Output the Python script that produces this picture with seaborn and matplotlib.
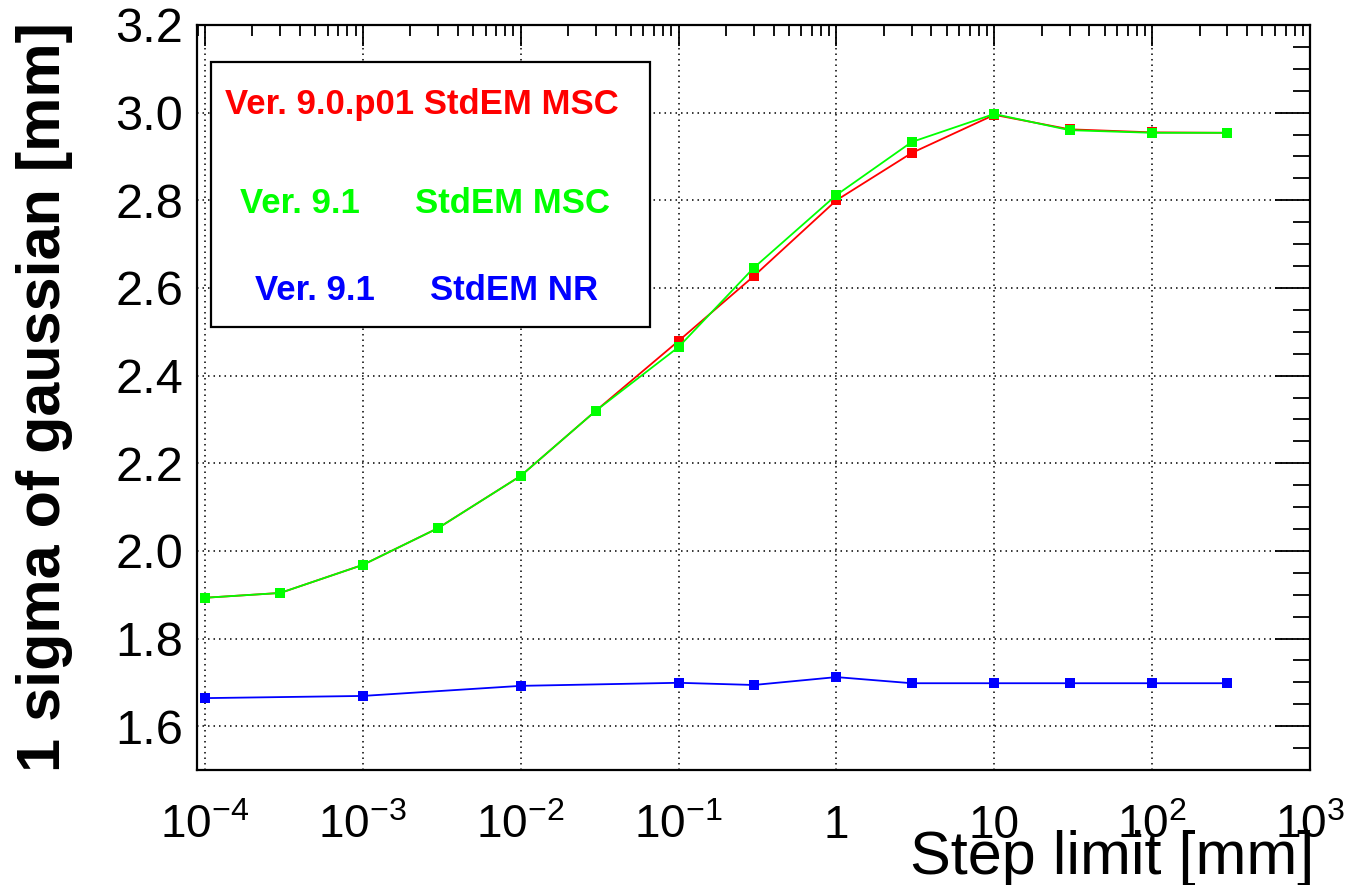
import numpy as np
import pandas as pd
import matplotlib
matplotlib.use("Agg")
import matplotlib.pyplot as plt
import seaborn as sns
from matplotlib.ticker import LogLocator, MultipleLocator, NullFormatter
from matplotlib.patches import Rectangle

# ---------------- data ----------------
steps_msc = [1e-4, 3e-4, 1e-3, 3e-3, 1e-2, 3e-2, 0.1, 0.3, 1, 3, 10, 30, 100, 300]
sigma_v90p01_msc = [1.893, 1.904, 1.968, 2.052, 2.171, 2.320, 2.479, 2.627,
                    2.800, 2.908, 2.995, 2.962, 2.955, 2.954]
sigma_v91_msc = [1.893, 1.904, 1.968, 2.052, 2.171, 2.320, 2.465, 2.646,
                 2.812, 2.933, 2.997, 2.960, 2.954, 2.954]
steps_nr = [1e-4, 1e-3, 1e-2, 0.1, 0.3, 1, 3, 10, 30, 100, 300]
sigma_v91_nr = [1.664, 1.669, 1.692, 1.699, 1.694, 1.712, 1.698, 1.698,
                1.698, 1.698, 1.698]

series_names = ["Ver. 9.0.p01 StdEM MSC", "Ver. 9.1 StdEM MSC", "Ver. 9.1 StdEM NR"]
series_colors = ["#ff0000", "#00ff00", "#0000ff"]

x_tick_values = [1e-4, 1e-3, 1e-2, 1e-1, 1, 10, 1e2, 1e3]
x_tick_labels = ["$10^{-4}$", "$10^{-3}$", "$10^{-2}$", "$10^{-1}$", "1", "10",
                 "$10^{2}$", "$10^{3}$"]
y_tick_values = [1.6, 1.8, 2.0, 2.2, 2.4, 2.6, 2.8, 3.0, 3.2]
y_tick_labels = ["1.6", "1.8", "2.0", "2.2", "2.4", "2.6", "2.8", "3.0", "3.2"]

legend_rows = [
    [("Ver. 9.0.p01 StdEM MSC", 0.025)],
    [("Ver. 9.1", 0.0385), ("StdEM MSC", 0.196)],
    [("Ver. 9.1", 0.052), ("StdEM NR", 0.209)],
]
legend_row_y = [0.893, 0.761, 0.644]

xlabel_text = "Step limit [mm]"
ylabel_text = "1 sigma of gaussian [mm]"

# ---------------- frame ----------------
df = pd.concat([
    pd.DataFrame({"step": steps_msc, "sigma": sigma_v90p01_msc, "series": series_names[0]}),
    pd.DataFrame({"step": steps_msc, "sigma": sigma_v91_msc, "series": series_names[1]}),
    pd.DataFrame({"step": steps_nr, "sigma": sigma_v91_nr, "series": series_names[2]}),
], ignore_index=True)

sns.set_theme(style="white")
plt.rcParams["font.family"] = ["Liberation Sans", "DejaVu Sans"]
plt.rcParams["mathtext.fontset"] = "custom"
plt.rcParams["mathtext.rm"] = "Liberation Sans"
plt.rcParams["mathtext.it"] = "Liberation Sans:italic"
plt.rcParams["mathtext.bf"] = "Liberation Sans:bold"
plt.rcParams["mathtext.sf"] = "Liberation Sans"
plt.rcParams["axes.unicode_minus"] = False
plt.rcParams["text.color"] = "black"
plt.rcParams["axes.labelcolor"] = "black"
plt.rcParams["xtick.color"] = "black"
plt.rcParams["ytick.color"] = "black"

fig = plt.figure(figsize=(13.47, 8.85), dpi=100)
fig.patch.set_facecolor("white")
ax = fig.add_axes([197 / 1347, 115 / 885, 1113 / 1347, 745 / 885])
ax.set_facecolor("white")

ax.set_xscale("log")
sns.lineplot(data=df, x="step", y="sigma", hue="series", hue_order=series_names,
             palette=series_colors, marker="s", markersize=7.5, markeredgewidth=0,
             linewidth=1.3, estimator=None, sort=False, legend=False, ax=ax, zorder=3)

ax.set_xlim(10 ** -4.05, 1e3)
ax.set_ylim(1.5, 3.2)

# ticks
ax.set_xticks(x_tick_values)
ax.set_xticklabels(x_tick_labels, fontsize=33)
ax.xaxis.set_minor_locator(LogLocator(base=10, subs=np.arange(2, 10)))
ax.xaxis.set_minor_formatter(NullFormatter())
ax.set_yticks(y_tick_values)
ax.set_yticklabels(y_tick_labels, fontsize=35)
ax.yaxis.set_minor_locator(MultipleLocator(0.05))
for lab in ax.get_xticklabels():
    lab.set_verticalalignment("baseline")

ax.tick_params(axis="both", which="both", direction="in", top=True, right=True,
               color="black", width=1.3, labelcolor="black")
ax.tick_params(axis="x", which="major", length=15, pad=49)
ax.tick_params(axis="x", which="minor", length=8)
ax.tick_params(axis="y", which="major", length=25, pad=10)
ax.tick_params(axis="y", which="minor", length=12)

ax.grid(True, which="major", color="black", linestyle=(0, (1, 2.6)), linewidth=1.1)
ax.grid(False, which="minor")
for sp in ax.spines.values():
    sp.set_color("black")
    sp.set_linewidth(1.6)
    sp.set_visible(True)

# labels
ax.set_xlabel(xlabel_text, fontsize=44, ha="right", color="black")
ax.xaxis.set_label_coords(1.004, -0.1396)
ax.xaxis.label.set_verticalalignment("baseline")
ax.set_ylabel(ylabel_text, fontsize=44, fontweight="bold", color="black")
ax.yaxis.set_label_coords(-0.111, 0.5)

# legend box
ax.add_patch(Rectangle((0.0126, 0.595), 0.394, 0.355, transform=ax.transAxes,
                       facecolor="white", edgecolor="black", linewidth=1.6, zorder=5))
for row, y, col in zip(legend_rows, legend_row_y, series_colors):
    for txt, x in row:
        ax.text(x, y, txt, transform=ax.transAxes, color=col, fontsize=25,
                fontweight="bold", ha="left", va="center", zorder=6)

fig.savefig("out.png", dpi=100)
